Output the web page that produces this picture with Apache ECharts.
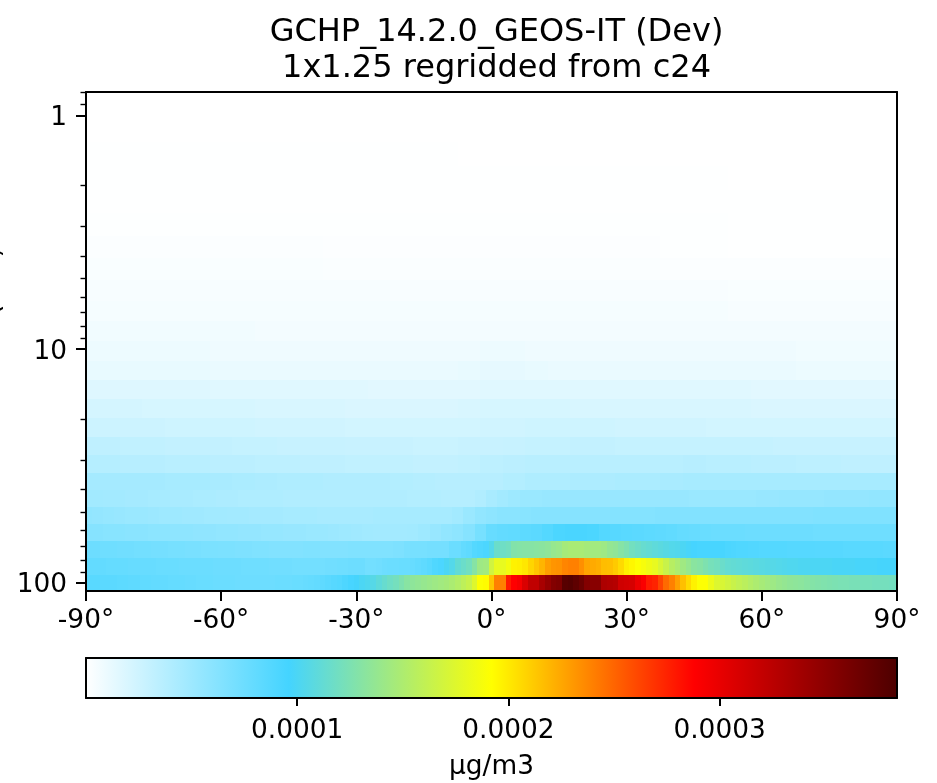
<!DOCTYPE html>
<html><head><meta charset="utf-8">
<style>html,body{margin:0;padding:0;background:#fff}#c{width:937px;height:783px}</style>
<script src="https://cdn.jsdelivr.net/npm/echarts@6/dist/echarts.min.js"></script>
</head><body><div id="c"></div>
<script>
// Values are in units of 1e-6 ug/m3; each level's list spans -90..90 deg on a centred grid.
const unit = 1e-6;
const vmax = 384;
const titleLines = ['GCHP_14.2.0_GEOS-IT (Dev)', '1x1.25 regridded from c24'];
const unitLabel = 'µg/m3';
const yName = 'Pressure (hPa)';
const lonTicks = [-90, -60, -30, 0, 30, 60, 90];
const pressureMajor = [1, 10, 100];
const pressureMinor = [0.8, 0.9, 2, 3, 4, 5, 6, 7, 8, 9, 20, 30, 40, 50, 60, 70, 80, 90];
const colorbarTicks = [100, 200, 300];
const palette = ['#ffffff', '#44d4ff', '#ffff00', '#ff0000', '#4d0000'];
// level edges in hPa, bottom of the plot upward
const pressureEdges = [108.663, 92.3657, 78.5123, 66.6034, 56.3879, 47.6439, 40.1754, 33.81, 28.3678, 23.7304,
  19.7916, 16.4571, 13.6434, 11.2769, 9.2929, 7.6198, 6.2168, 5.0468, 4.0766, 3.2764, 2.6202, 2.085, 1.6508, 1.3005, 1.0194, 0.7951];

const lev00 = [85,85,85,84,84,84,83,83,82,82, 81,81,80,80,80,79,79,79,78,78,
  77,77,77,76,76,76,76,75,75,75, 75,75,75,75,76,76,76,77,77,78,
  79,80,82,84,86,88,91,94,97,100, 102,105,110,114,118,121,126,131,134,136,
  138,140,142,144,146,149,153,158,163,175, 191,193,214,240,240,278,288,293,308,322,
  322,335,345,355,358,378,380,375,368,355, 352,352,332,330,328,314,312,310,298,290,
  278,275,262,248,240,228,216,206,197,191, 191,182,174,172,168,164,160,157,153,150,
  147,144,142,139,137,135,134,133,131,129, 128,127,126,125,124,124,123,123,122,122, 121,121,121,120,120];
const lev01 = [80,80,80,80,79,79,79,79,78,78, 78,78,78,77,77,77,77,76,76,76,
  76,76,76,75,75,75,75,75,74,74, 74,74,74,73,73,73,73,72,72,72,
  72,72,72,73,73,74,74,75,75,75, 72,72,73,75,76,76,77,77,78,80,
  82,85,90,92,100,104,112,116,120,130, 142,144,168,180,180,186,197,198,201,208,
  214,220,228,232,233,238,240,240,234,226, 224,222,217,216,212,206,198,195,191,188,
  184,180,172,164,155,150,143,138,132,130, 126,122,120,116,113,112,111,110,109,108,
  107,106,105,104,103,102,102,101,101,100, 100,100,100,99,99,99,99,98,98,98, 98,97,97,97,97];
const lev02 = [75,75,75,74,74,74,73,73,73,72, 72,72,71,71,71,70,70,70,69,69,
  69,68,68,68,67,67,67,66,66,66, 65,65,65,64,64,64,64,64,64,65,
  65,65,64,64,64,64,64,65,65,65, 65,65,65,65,65,66,66,69,70,70,
  70,71,71,71,71,76,76,80,82,88, 90,92,104,116,118,120,128,129,130,130,
  131,132,134,138,140,146,148,148,148,146, 144,144,142,137,135,130,126,120,117,114,
  112,110,108,106,104,103,100,98,95,94, 94,94,94,94,92,91,90,90,89,89,
  88,88,88,88,88,87,87,87,87,87, 86,86,86,86,86,85,85,85,85,85, 85,85,84,84,84];
const lev03 = [62,62,61,61,60,60,59,59,58,58, 57,57,56,56,55,55,54,54,53,53,
  52,52,51,50,49,48,47,47,47,48, 50,53,56,58,62,70,
  78,80,81,83,84,88,92,93,93,92, 88,86,85,84,83,82,81,79,78,77, 76,76,76,75,75,
  75,75,75,75,74,74,74,74,74,74,74,74];
const lev04 = [56,55,54,53,52,52,51,50,50,49, 49,48,48,47,47,46,46,46,45,45,
  45,44,44,44,44,44,45,45,45,45, 45,45,45,47,52,56,
  58,60,60,61,62,62,62,62,62, 62,62,63,63,63,63,64,64,64,64,
  64,64,64,64,64,64,64,64,64,64,65,65,65,65,65,65,65,65];
const lev05 = [48,48,47,47,46,46,45,45,44,44, 43,43,42,42,41,41,41,41,40,40,
  40,40,40,40,40,40,40,40,40,39, 39,39,38,38,38,40,
  44,47,50,52,52,53,53,53,53, 53,53,53,53,53,53,53,53,53,52,
  52,52,52,52,52,53,53,54,54,54, 54,55,55,55,55,56,56,56];
const lev06 = [46,46,46,46,45,45,44,43,42,41,41,40,40,40,39,38,37,37,37,39,41,41,42,42,43,43,44,45,45,45,45,45,45,45,45,45,45];
const lev07 = [38,38,37,37,36,36,35,35,34,34,33,33,32,32,32,31,31,32,34,35,36,36,36,36,36,36,36,37,36,36,35,35,34,34,33,33,33];
const lev08 = [33,33,32,32,31,31,31,30,30,29,29,29,28,28,28,27,27,28,28,29,30,30,31,31,30,30,30,30,30,30,30,29,29,29,29,29,29];
const lev09 = [26,26,26,26,25,25,25,25,24,24,24,24,23,23,23,23,23,23,24,24,25,25,25,25,24,24,24,24,23,23,23,23,23,23,23,23,23];
const lev10 = [22,22,22,21,21,21,21,21,20,20,20,20,19,19,19,19,19,20,21,21,21,21,20,20,20,20,20,20,20,20,19,19,19,19,19,19,19];
const lev11 = [17,17,17,17,17,17,16,16,16,16,16,16,16,15,15,15,15,15,16,16,16,16,16,16,16,16,16,16,16,16,15,15,15,15,15,15,15];
const lev12 = [12,12,12,12,12,12,11,11,11,11,11,11,11,11,11,11,11,12,13,13,12,11,11,11,11,11,11,11,11,11,11,11,10,10,10,10,10];
const lev13 = [9,9,9,9,9,9,8,8,8,8,8,8,8,8,8,8,8,8,9,9,8,8,8,8,8,8,8,8,8,8,8,8,7,7,7,7,7];
const lev14 = [7,7,7,6,6,6,6,6,6,6,6,6,6];
const lev15 = [5,5,5,5,5,5,5,5,5,5,4,4,4];
const lev16 = [4,4,4,4,4,3.5,3.5,3.5,3.5,3.5,3,3,3];
const lev17 = [3,3,3,3,2.5,2.5,2.5,2.5,2.5,2,2,2,2];
const lev18 = [2,2,2,2,1.5,1.5,1.5,1.5,1.5,1,0.5,0.5,0.5];
const lev19 = [1,1,1,1,1,1,1,1,1,0.8,0.4,0.4,0.4];
const lev20 = [0.7,0.7,0.7,0.7,0.7,0.7,0.7,0.6,0.6,0.5,0.3,0.3,0.3];
const lev21 = [0.5,0.5,0.5,0.5,0.5,0.5,0.4,0.4,0.4,0.3,0.2,0.2,0.2];
const lev22 = [0.3,0.3,0.3,0.3,0.3,0.3,0.2,0.2,0.2,0.2,0.2,0.1,0.1];
const lev23 = [0.2,0.2,0.2,0.2,0.1,0.1,0.1,0.1,0.1,0.1,0.1,0.1,0.1];
const lev24 = [0.1,0.1,0.1,0.1,0.1,0.1,0.1,0.1,0.1,0.1,0,0,0];
const levels = [lev00,lev01,lev02,lev03,lev04,lev05,lev06,lev07,lev08,lev09,lev10,lev11,lev12,lev13,lev14,lev15,lev16,lev17,lev18,lev19,lev20,lev21,lev22,lev23,lev24];

const cells = [];
levels.forEach((row, k) => {
  const w = 180 / (row.length - 1);
  row.forEach((v, i) => {
    const c = -90 + w * i;
    cells.push([Math.max(-90, c - w / 2), Math.min(90, c + w / 2), pressureEdges[k], pressureEdges[k + 1], v]);
  });
});
const colorOf = v => echarts.color.lerp(Math.min(1, v / vmax), palette);

const FF = '"DejaVu Sans"', TS = 26.4, LW = 2;
const line = {show: true, onZero: false, lineStyle: {color: '#000', width: LW}};
const blank = {z: 10, axisLine: line, axisTick: {show: false}, axisLabel: {show: false}, splitLine: {show: false}};
const chart = echarts.init(document.getElementById('c'), null, {renderer: 'canvas'});
chart.setOption({
  animation: false,
  backgroundColor: '#fff',
  title: {text: titleLines.join('\n'), left: 491.5, top: 10, textAlign: 'center',
    textStyle: {fontFamily: FF, fontSize: 32, fontWeight: 'normal', color: '#000', lineHeight: 36}},
  grid: [
    {left: 86, right: 40, top: 92, height: 499, outerBoundsMode: 'none', containLabel: false},
    {left: 86, right: 40, top: 658, height: 40, outerBoundsMode: 'none', containLabel: false}
  ],
  xAxis: [
    {type: 'value', z: 10, gridIndex: 0, min: -90, max: 90, interval: 30, position: 'bottom', axisLine: line,
      axisTick: {show: true, length: 10, lineStyle: {color: '#000', width: LW}},
      axisLabel: {show: true, margin: 17, color: '#000', fontFamily: FF, fontSize: TS, hideOverlap: false, showMinLabel: true, showMaxLabel: true, customValues: lonTicks, formatter: v => v + '°'},
      splitLine: {show: false}},
    Object.assign({type: 'value', gridIndex: 0, min: -90, max: 90, position: 'top'}, blank),
    {type: 'value', z: 10, gridIndex: 1, min: 0, max: vmax * unit, position: 'bottom', axisLine: line,
      axisTick: {show: true, length: 8, customValues: colorbarTicks.map(v => v * unit), lineStyle: {color: '#000', width: LW}},
      axisLabel: {show: true, margin: 20, color: '#000', fontFamily: FF, fontSize: TS, customValues: colorbarTicks.map(v => v * unit), formatter: v => v.toFixed(4)},
      splitLine: {show: false},
      name: unitLabel, nameLocation: 'middle', nameGap: 56, nameTextStyle: {color: '#000', fontFamily: FF, fontSize: TS}},
    Object.assign({type: 'value', gridIndex: 1, min: 0, max: vmax * unit, position: 'top'}, blank)
  ],
  yAxis: [
    {type: 'log', z: 10, gridIndex: 0, logBase: 10, min: pressureEdges[25], max: pressureEdges[0], inverse: true, position: 'left', axisLine: line,
      axisTick: {show: true, length: 10, customValues: pressureMajor, lineStyle: {color: '#000', width: LW}},
      axisLabel: {show: true, margin: 19, color: '#000', fontFamily: FF, fontSize: TS, customValues: pressureMajor,
        formatter: v => '{n|' + Math.round(v) + '}',
        rich: {n: {padding: [6, 0, 0, 0], color: '#000', fontFamily: FF, fontSize: TS}}},
      splitLine: {show: false},
      name: yName, nameLocation: 'middle', nameGap: 81, nameRotate: 90, nameTextStyle: {color: '#000', fontFamily: FF, fontSize: TS}},
    {type: 'log', z: 10, gridIndex: 0, logBase: 10, min: pressureEdges[25], max: pressureEdges[0], inverse: true, position: 'left', axisLine: {show: false, onZero: false},
      axisTick: {show: true, length: 5.5, customValues: pressureMinor, lineStyle: {color: '#000', width: 1.4}},
      axisLabel: {show: false}, splitLine: {show: false}},
    Object.assign({type: 'value', gridIndex: 0, min: 0, max: 1, position: 'right'}, blank),
    Object.assign({type: 'value', gridIndex: 1, min: 0, max: 1, position: 'left'}, blank),
    Object.assign({type: 'value', gridIndex: 1, min: 0, max: 1, position: 'right'}, blank)
  ],
  series: [
    {type: 'custom', coordinateSystem: 'cartesian2d', xAxisIndex: 0, yAxisIndex: 0, clip: true, silent: true,
      data: cells, encode: {x: [0, 1], y: [2, 3]}, z: 1,
      renderItem: (params, api) => {
        const a = api.coord([api.value(0), api.value(2)]);
        const b = api.coord([api.value(1), api.value(3)]);
        const x0 = Math.round(a[0]), x1 = Math.round(b[0]);
        const y0 = Math.round(Math.min(a[1], b[1])), y1 = Math.round(Math.max(a[1], b[1]));
        return {type: 'rect', shape: {x: x0, y: y0, width: x1 - x0, height: y1 - y0},
          style: {fill: colorOf(api.value(4))}};
      }},
    {type: 'custom', coordinateSystem: 'cartesian2d', xAxisIndex: 2, yAxisIndex: 3, clip: true, silent: true,
      data: [[0, vmax * unit, 0, 1]], encode: {x: [0, 1], y: [2, 3]}, z: 1,
      renderItem: (params, api) => {
        const a = api.coord([api.value(0), api.value(2)]);
        const b = api.coord([api.value(1), api.value(3)]);
        return {type: 'rect', shape: {x: a[0], y: b[1], width: b[0] - a[0], height: a[1] - b[1]},
          style: {fill: new echarts.graphic.LinearGradient(0, 0, 1, 0, palette.map((c, i) => ({offset: i / (palette.length - 1), color: c})))}};
      }}
  ]
});
</script></body></html>
